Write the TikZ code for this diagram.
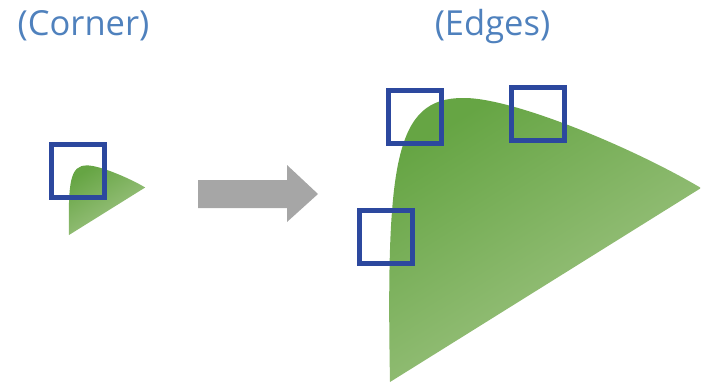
\documentclass[tikz,border=0pt]{standalone}
\usepackage{fontspec}
\setmainfont{Open Sans}
\usepackage{tikz}
\usetikzlibrary{positioning}

\definecolor{lblblue}{RGB}{79,129,189}
\definecolor{boxblue}{RGB}{44,72,158}
\definecolor{leafdark}{RGB}{102,165,68}
\definecolor{leafmid}{RGB}{114,172,80}
\definecolor{leaflight}{RGB}{165,199,138}
\definecolor{arrowgray}{RGB}{166,166,166}

\begin{document}
\begin{tikzpicture}[x=1pt, y=-1pt]
    \tikzstyle{caption} = [text=lblblue, font=\fontsize{34.5}{40}\selectfont, anchor=base, inner sep=0]
    \tikzstyle{probe} = [draw=boxblue, line width=5pt, minimum size=53pt, inner sep=0, rectangle]
    \tikzset{leaf/.pic={
        \shade[top color=leafdark, middle color=leafmid, bottom color=leaflight, shading angle=32]
            (0,0) .. controls (-4,-220) and (5,-284) .. (73,-284)
                  .. controls (120,-285) and (240,-236) .. (311,-194) -- cycle;
    }}
    \useasboundingbox (0,0) rectangle (701,383);

    % small shape and its corner box
    \pic[scale=0.245] at (69,235) {leaf};
    \node[probe] (corner) at (77.6,170.5) {};

    % grey block arrow
    \fill[arrowgray] (198,180) -- (287,180) -- (287,165) -- (318,194)
        -- (287,222) -- (287,208) -- (198,208) -- cycle;

    % large shape and the edge boxes
    \pic at (390,382) {leaf};
    \node[probe] (edgetl) at (415.3,116.8) {};
    \node[probe] (edgetr) at (538.3,113.5) {};
    \node[probe] (edgel) at (386,236.8) {};

    \node[caption] (cornerlbl) at (83.5,35) {(Corner)};
    \node[caption] (edgeslbl) at (492.5,35) {(Edges)};
\end{tikzpicture}
\end{document}
